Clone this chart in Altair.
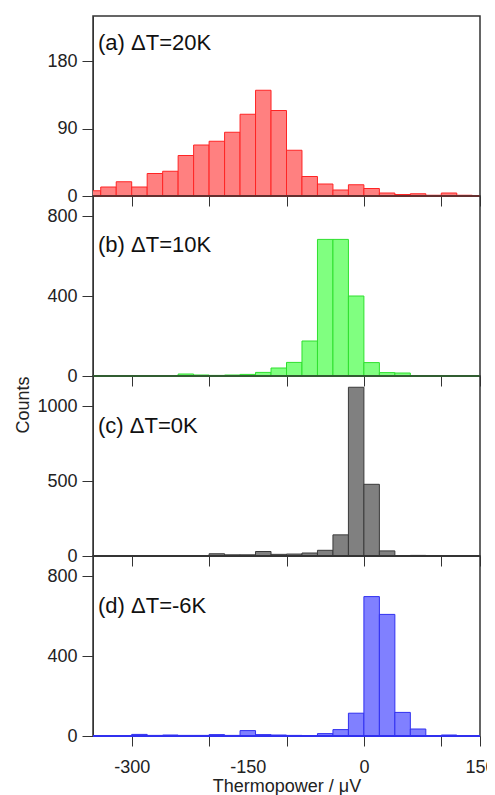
import altair as alt
import pandas as pd

# ---- data ----
bin_starts = [-360, -340, -320, -300, -280, -260, -240, -220, -200, -180, -160, -140, -120,
              -100, -80, -60, -40, -20, 0, 20, 40, 60, 80, 100, 120, 140]
bin_width = 20

counts_a = [7, 12, 19, 12, 30, 33, 54, 68, 73, 85, 109, 141, 114, 61, 26, 16, 8, 15, 10, 4, 2, 3, 1, 4, 1, 0]
counts_b = [1, 2, 1, 2, 1, 2, 10, 5, 3, 5, 8, 18, 40, 68, 175, 683, 683, 400, 67, 17, 15, 2, 1, 1, 1, 0]
counts_c = [0, 1, 1, 1, 3, 3, 3, 3, 15, 8, 8, 30, 11, 13, 20, 38, 141, 1125, 478, 34, 1, 4, 1, 1, 0, 0]
counts_d = [2, 2, 2, 8, 3, 5, 3, 3, 7, 3, 27, 7, 5, 3, 2, 12, 32, 114, 697, 608, 118, 35, 2, 5, 1, 0]

panel_labels = ["(a) \u0394T=20K", "(b) \u0394T=10K", "(c) \u0394T=0K", "(d) \u0394T=-6K"]
fills = ["#ff8080", "#80ff80", "#808080", "#8080ff"]
strokes = ["#ff2424", "#2ee02e", "#3a3a3a", "#3030f0"]
y_domains = [[0, 240], [0, 900], [0, 1200], [0, 900]]
y_ticks = [[0, 90, 180], [0, 400, 800], [0, 500, 1000], [0, 400, 800]]

x_domain = [-350, 150]
x_tick_marks = [-300, -200, -100, 0, 100, 150]
x_tick_labels = [-300, -150, 0, 150]
x_all_values = sorted(set(x_tick_marks + x_tick_labels))

FONT = "Liberation Sans"
W, H = 387, 180

tick_test = "indexof([%s], datum.value) < 0" % ",".join(str(v) for v in x_tick_marks)
label_expr = "indexof([%s], datum.value) >= 0 ? '' + datum.value : ''" % ",".join(str(v) for v in x_tick_labels)


def panel(counts, fill, stroke, ydom, yt, label, label_y, bottom, ytitle):
    df = pd.DataFrame({
        "start": bin_starts,
        "end": [s + bin_width for s in bin_starts],
        "count": counts,
    })
    xscale = alt.Scale(domain=x_domain, nice=False, zero=False)
    if bottom:
        xaxis = alt.Axis(values=x_all_values, labelExpr=label_expr, title="Thermopower / \u03bcV",
                         tickSize=10, labelPadding=12, titlePadding=1, grid=False, labelFlush=False,
                         tickOpacity={"condition": {"test": tick_test, "value": 0}, "value": 1})
    else:
        xaxis = alt.Axis(values=x_all_values, labels=False, title=None, tickSize=10, grid=False,
                         tickOpacity={"condition": {"test": tick_test, "value": 0}, "value": 1})
    yaxis_kw = dict(values=yt, tickSize=11, labelPadding=5, grid=False, format="d")
    if ytitle:
        yaxis = alt.Axis(title="Counts", titleAnchor="end", titlePadding=4, **yaxis_kw)
    else:
        yaxis = alt.Axis(title=None, **yaxis_kw)
    bars = alt.Chart(df).mark_bar(fill=fill, stroke=stroke, strokeWidth=1, clip=True,
                                  opacity=1).encode(
        x=alt.X("start:Q", scale=xscale, axis=xaxis),
        x2="end:Q",
        y=alt.Y("count:Q", scale=alt.Scale(domain=ydom, nice=False), axis=yaxis),
        y2=alt.datum(0),
    )
    base = alt.Chart(df).mark_rule(color=stroke, strokeWidth=1.2).encode(
        x=alt.value(0), x2=alt.value(W), y=alt.datum(0)
    )
    txt = alt.Chart(pd.DataFrame({"t": [label]})).mark_text(
        align="left", baseline="alphabetic", font=FONT, fontSize=22, color="#111"
    ).encode(x=alt.value(5), y=alt.value(label_y), text="t:N")
    return alt.layer(bars, base, txt).properties(width=W, height=H)


label_ys = [34, 56, 57, 57]
panels = []
for i in range(4):
    cnt = [counts_a, counts_b, counts_c, counts_d][i]
    panels.append(panel(cnt, fills[i], strokes[i], y_domains[i], y_ticks[i], panel_labels[i],
                        label_ys[i], bottom=(i == 3), ytitle=(i == 2)))

chart = alt.vconcat(*panels, spacing=0, bounds="flush").properties(
    padding={"top": 7, "left": 6, "right": -9, "bottom": 2}
).configure_view(
    stroke="#333", strokeWidth=1.5
).configure_axis(
    labelFont=FONT, labelFontSize=18, labelColor="#222",
    titleFont=FONT, titleFontSize=18, titleFontWeight="normal", titleColor="#222",
    domainColor="#333", tickColor="#333", domainWidth=1, tickWidth=1,
)

chart.save("out.html", embed_options={"renderer": "svg", "actions": False})
